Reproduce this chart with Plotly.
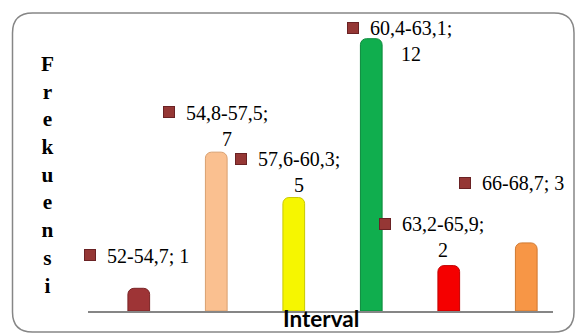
import plotly.graph_objects as go

# ---- data ----
intervals = ["52-54,7", "54,8-57,5", "57,6-60,3", "60,4-63,1", "63,2-65,9", "66-68,7"]
frequencies = [1, 7, 5, 12, 2, 3]
wrap_label = [False, True, True, True, True, False]
bar_colors = ["#9E3436", "#FAC090", "#F6F600", "#10AE4E", "#F50000", "#F79646"]
bar_edges = ["#7A2426", "#D9A070", "#C8C800", "#0C8A3C", "#C00000", "#D07830"]

# label placement (pixel offsets of the small marker from each bar's top centre)
marker_dx = [-49, -47, -53, -18, -64, -61]
marker_dy = [-33, -40, -39, -11, -42, -60]

W, H = 575, 333
ML, MR, MT, MB = 88, 22, 16, 22
PW, PH = W - ML - MR, H - MT - MB

SERIF = "Liberation Serif, Times New Roman, serif"

x_pos = list(range(len(intervals)))

fig = go.Figure()
fig.add_trace(go.Bar(
    x=x_pos, y=frequencies, width=0.28,
    marker=dict(color=bar_colors, line=dict(color=bar_edges, width=1), cornerradius=6),
    hoverinfo="skip", showlegend=False,
))

def px(xp):
    return (xp - ML) / PW

def py(yp):
    return (MT + PH - yp) / PH

annotations = []
for i, (iv, f) in enumerate(zip(intervals, frequencies)):
    sep = ";<br>" if wrap_label[i] else "; "
    annotations.append(dict(
        x=i, y=f, xref="x", yref="y", text=" ", showarrow=False,
        width=10, height=10, bgcolor="#953735", bordercolor="#6A2224",
        borderwidth=1, borderpad=0,
        xanchor="center", yanchor="middle",
        xshift=marker_dx[i], yshift=-marker_dy[i],
    ))
    annotations.append(dict(
        x=i, y=f, xref="x", yref="y", text=f"{iv}{sep}{f}", showarrow=False,
        font=dict(family=SERIF, size=20, color="black"),
        align="center", xanchor="left", yanchor="top", borderpad=0,
        xshift=marker_dx[i] + 16, yshift=-(marker_dy[i] + 1.5) + 13,
    ))

# vertical axis title (stacked letters)
title_letters = "Frekuensi"
annotations.append(dict(
    x=px(47.5), y=py(175), xref="paper", yref="paper",
    text="<br>".join(title_letters), showarrow=False,
    font=dict(family=SERIF, size=21.3, color="black", weight="bold"),
    xanchor="center", yanchor="middle", align="center",
))
# horizontal axis title
annotations.append(dict(
    x=px(321), y=py(318), xref="paper", yref="paper",
    text="<b>Interval</b>", showarrow=False,
    font=dict(family="Lato", size=22.5, color="black"),
    xanchor="center", yanchor="middle", borderpad=0,
))

x0, y0, x1, y1, r = 12.5, 13, 574, 332, 20
path = (f"M {px(x0+r)},{py(y0)} L {px(x1-r)},{py(y0)} Q {px(x1)},{py(y0)} {px(x1)},{py(y0+r)} "
        f"L {px(x1)},{py(y1-r)} Q {px(x1)},{py(y1)} {px(x1-r)},{py(y1)} "
        f"L {px(x0+r)},{py(y1)} Q {px(x0)},{py(y1)} {px(x0)},{py(y1-r)} "
        f"L {px(x0)},{py(y0+r)} Q {px(x0)},{py(y0)} {px(x0+r)},{py(y0)} Z")

fig.update_layout(
    width=W, height=H,
    margin=dict(l=ML, r=MR, t=MT, b=MB, autoexpand=False),
    paper_bgcolor="white", plot_bgcolor="white",
    xaxis=dict(range=[-0.655, 5.345], showticklabels=False, ticks="", showgrid=False,
               zeroline=False, showline=True, linecolor="#868686", linewidth=1.5,
               automargin=False),
    yaxis=dict(range=[0, 13], showticklabels=False, ticks="", showgrid=False,
               zeroline=False, showline=False, automargin=False),
    annotations=annotations,
    shapes=[dict(type="path", path=path, xref="paper", yref="paper",
                 line=dict(color="#868686", width=1.5), layer="below")],
)

fig.write_html("out.html")
